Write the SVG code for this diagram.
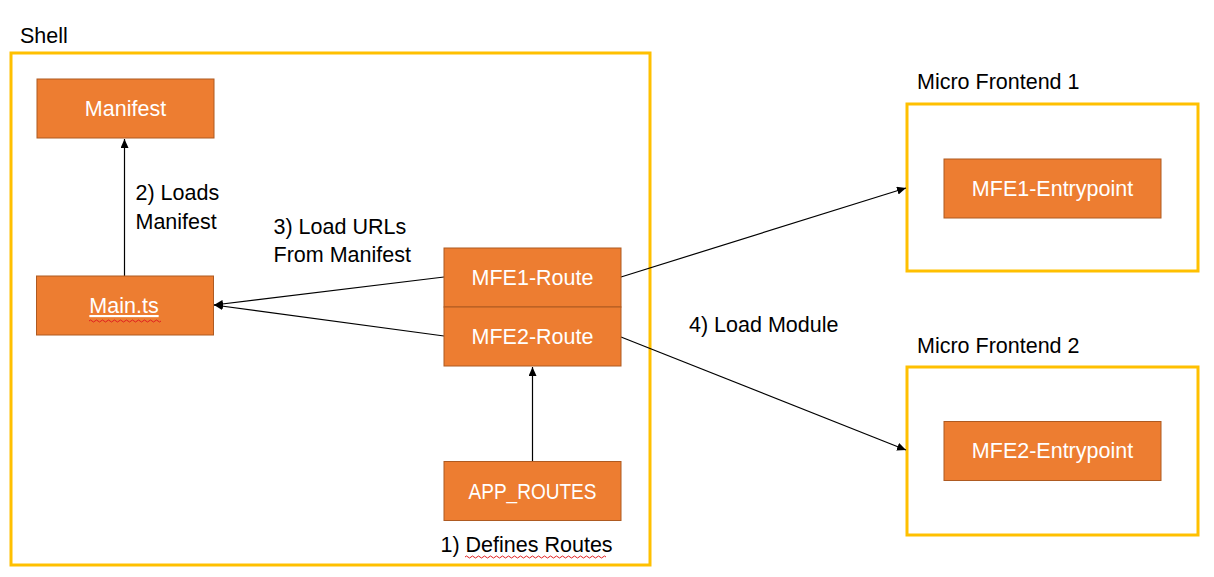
<svg xmlns="http://www.w3.org/2000/svg" width="1214" height="577" viewBox="0 0 1214 577">
<style>
.container{fill:none;stroke:#FFC000;stroke-width:3}
.node{fill:#ED7D31;stroke:#AE5A21;stroke-width:1}
.nt{font-family:"Liberation Sans",Arial,sans-serif;font-size:21.5px;fill:#FFFFFF;text-anchor:middle}
.lbl{font-family:"Liberation Sans",Arial,sans-serif;font-size:21.5px;fill:#000000}
.conn{stroke:#000000;stroke-width:1.2;fill:none;marker-end:url(#arr)}
.squig{fill:none;stroke:#E02020;stroke-width:1}
</style>
<defs>
<marker id="arr" markerUnits="userSpaceOnUse" markerWidth="10" markerHeight="8" refX="9" refY="4" orient="auto">
<path d="M0,0 L9,4 L0,8 Z" fill="#000000"/>
</marker>
</defs>
<rect width="1214" height="577" fill="#FFFFFF"/>
<g id="shell">
<rect class="container" x="11" y="53" width="639" height="512"/>
<text class="lbl" x="20" y="43">Shell</text>
</g>
<g id="mf1">
<rect class="container" x="907" y="104" width="291" height="167"/>
<text class="lbl" x="917" y="89">Micro Frontend 1</text>
</g>
<g id="mf2">
<rect class="container" x="907" y="367" width="291" height="168"/>
<text class="lbl" x="917" y="353">Micro Frontend 2</text>
</g>
<g id="connectors">
<line class="conn" x1="124.5" y1="276" x2="124.5" y2="139"/>
<line class="conn" x1="444" y1="277" x2="214" y2="305"/>
<line class="conn" x1="444" y1="336" x2="214" y2="305"/>
<line class="conn" x1="532.5" y1="461" x2="532.5" y2="367"/>
<line class="conn" x1="621" y1="277" x2="906" y2="188"/>
<line class="conn" x1="621" y1="337" x2="906" y2="450"/>
</g>
<g id="manifest">
<rect class="node" x="37" y="79" width="177" height="59"/>
<text class="nt" x="125.5" y="116">Manifest</text>
</g>
<g id="main-ts">
<rect class="node" x="36.5" y="276" width="177" height="59"/>
<text class="nt" x="124" y="313" text-decoration="underline">Main.ts</text>
<path class="squig" d="M89,321 q1.5,-2 3,0 t3,0 t3,0 t3,0 t3,0 t3,0 t3,0 t3,0 t3,0 t3,0 t3,0 t3,0 t3,0 t3,0 t3,0 t3,0 t3,0 t3,0 t3,0 t3,0 t3,0 t3,0 t3,0 t3,0"/>
</g>
<g id="mfe1-route">
<rect class="node" x="444" y="248" width="177" height="59"/>
<text class="nt" x="532.5" y="285">MFE1-Route</text>
</g>
<g id="mfe2-route">
<rect class="node" x="444" y="307" width="177" height="59"/>
<text class="nt" x="532.5" y="344">MFE2-Route</text>
</g>
<g id="app-routes">
<rect class="node" x="444" y="461.5" width="177" height="59"/>
<text class="nt" x="532.5" y="499" textLength="128" lengthAdjust="spacingAndGlyphs">APP_ROUTES</text>
</g>
<g id="mfe1-entry">
<rect class="node" x="944" y="159" width="217" height="59"/>
<text class="nt" x="1052.5" y="196">MFE1-Entrypoint</text>
</g>
<g id="mfe2-entry">
<rect class="node" x="944" y="421.5" width="217" height="59"/>
<text class="nt" x="1052.5" y="458">MFE2-Entrypoint</text>
</g>
<g id="labels">
<text class="lbl" x="135.5" y="200">2) Loads</text>
<text class="lbl" x="135.5" y="229">Manifest</text>
<text class="lbl" x="273.5" y="234">3) Load URLs</text>
<text class="lbl" x="273.5" y="262">From Manifest</text>
<text class="lbl" x="689" y="331.5">4) Load Module</text>
<text class="lbl" x="440.5" y="552">1) Defines Routes</text>
<path class="squig" d="M465,557 q1.5,-2 3,0 t3,0 t3,0 t3,0 t3,0 t3,0 t3,0 t3,0 t3,0 t3,0 t3,0 t3,0 t3,0 t3,0 t3,0 t3,0 t3,0 t3,0 t3,0 t3,0 t3,0 t3,0 t3,0 t3,0 t3,0 t3,0 t3,0 t3,0 t3,0 t3,0 t3,0 t3,0 t3,0 t3,0 t3,0 t3,0 t3,0 t3,0 t3,0 t3,0 t3,0 t3,0 t3,0 t3,0 t3,0 t3,0 t3,0"/>
</g>
</svg>
